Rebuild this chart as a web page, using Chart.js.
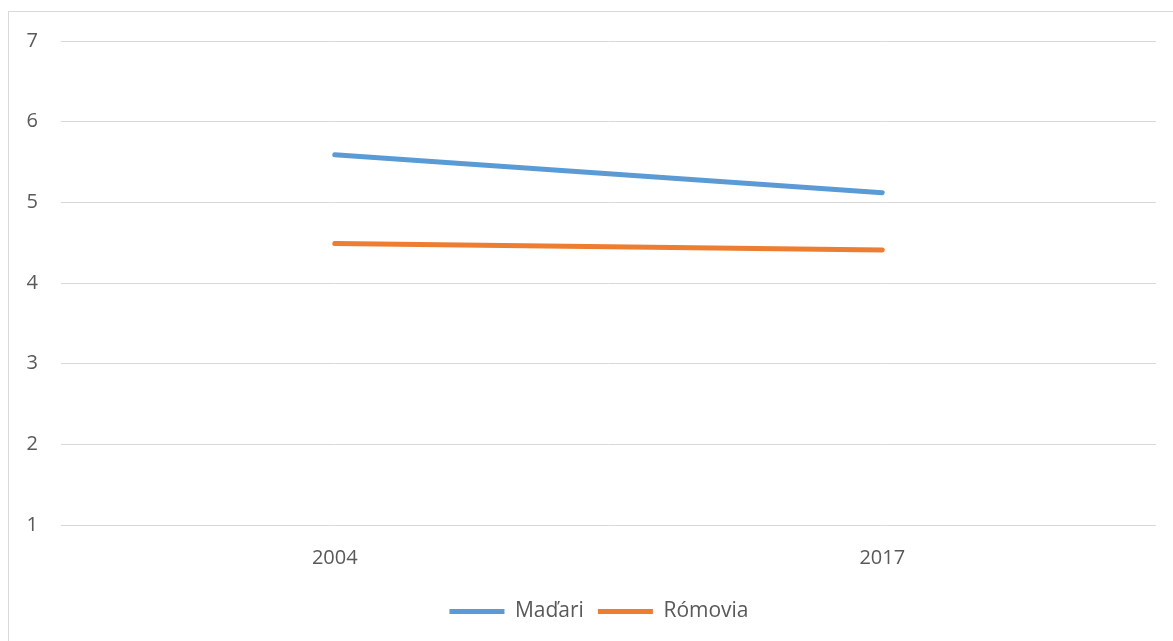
<!DOCTYPE html>
<html>
<head>
<meta charset="utf-8">
<script src="https://cdn.jsdelivr.net/npm/chart.js@4"></script>
<style>
  html, body { margin: 0; padding: 0; background: #fff; overflow: hidden; }
  #frame {
    position: absolute; left: 8px; top: 11px; width: 1200px; height: 700px;
    border: 1px solid #d9d9d9; box-sizing: border-box;
  }
  #wrap { position: absolute; left: 0; top: 0; width: 1173px; height: 641px; }
</style>
</head>
<body>
<div id="frame"></div>
<div id="wrap"><canvas id="chart"></canvas></div>
<script>
// chart values
const years = ['2004', '2017'];
const madari = [5.59, 5.12];
const romovia = [4.49, 4.41];
const yTicks = [1, 2, 3, 4, 5, 6, 7];

const fontFamily = '"Open Sans", sans-serif';
const textColor = '#595959';

// legend sits a bit right of the canvas centre in the original
const shiftLegend = {
  id: 'shiftLegend',
  afterLayout(chart) {
    if (!chart.legend) return;
    chart.legend.left += 21;
    chart.legend.right += 21;
  }
};

new Chart(document.getElementById('chart'), {
  type: 'line',
  data: {
    labels: years,
    datasets: [
      {
        label: 'Maďari',
        data: madari,
        borderColor: '#5B9BD5',
        backgroundColor: '#5B9BD5',
        borderWidth: 5,
        borderCapStyle: 'round',
        pointRadius: 0,
        tension: 0
      },
      {
        label: 'Rómovia',
        data: romovia,
        borderColor: '#ED7D31',
        backgroundColor: '#ED7D31',
        borderWidth: 5,
        borderCapStyle: 'round',
        pointRadius: 0,
        tension: 0
      }
    ]
  },
  options: {
    responsive: true,
    maintainAspectRatio: false,
    animation: false,
    layout: { padding: { top: 41, right: 17, bottom: 9, left: 0 } },
    plugins: {
      tooltip: { enabled: false },
      legend: {
        position: 'bottom',
        labels: {
          usePointStyle: true,
          pointStyle: 'line',
          pointStyleWidth: 55,
          padding: 14,
          color: textColor,
          font: { family: fontFamily, size: 21 }
        }
      }
    },
    scales: {
      x: {
        offset: true,
        grid: { display: false },
        border: { display: false },
        ticks: { color: textColor, padding: 13, font: { family: fontFamily, size: 20 } },
        afterFit: (scale) => { scale.height = 62; }
      },
      y: {
        min: 1,
        max: 7,
        afterBuildTicks: (scale) => { scale.ticks = yTicks.map(v => ({ value: v })); },
        grid: { color: '#d9d9d9', lineWidth: 1, drawTicks: false },
        border: { display: false },
        ticks: { color: textColor, padding: 23, font: { family: fontFamily, size: 20 } },
        afterFit: (scale) => { scale.width = 61; }
      }
    }
  },
  plugins: [shiftLegend]
});
</script>
</body>
</html>
